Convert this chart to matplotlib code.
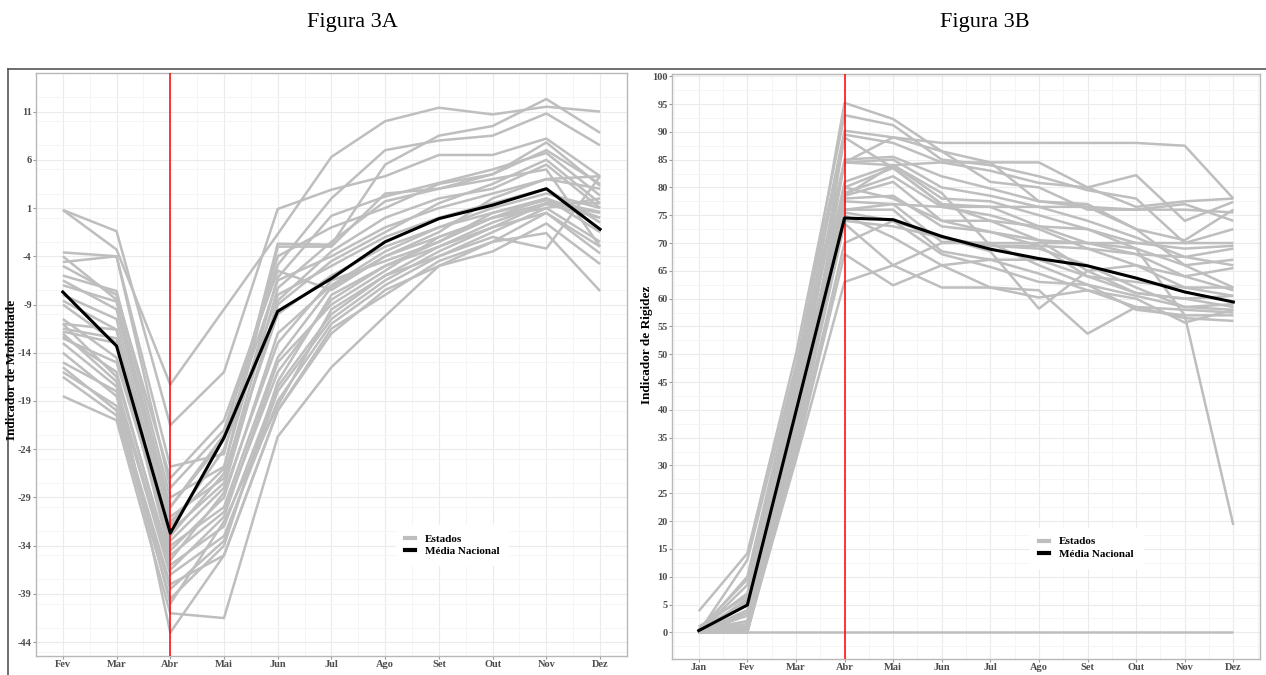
import matplotlib.pyplot as plt
from matplotlib.lines import Line2D
from matplotlib.ticker import MultipleLocator

plt.rcParams['axes.unicode_minus'] = False

# ---- Figura 3A: indicador de mobilidade (Fev-Dez) ----
meses_mob = ['Fev', 'Mar', 'Abr', 'Mai', 'Jun', 'Jul', 'Ago', 'Set', 'Out', 'Nov', 'Dez']

estados_mob = [
    [0.8, -1.4, -21.5, -16.0, 0.9, 2.9, 4.3, 6.5, 6.5, 8.2, 4.3],
    [0.8, -3.3, -17.3, -9.5, -1.7, 6.3, 10.0, 11.4, 10.7, 11.5, 11.0],
    [-3.6, -4.0, -25.8, -24.5, -2.7, -2.8, 5.5, 8.5, 9.5, 12.3, 8.8],
    [-4.6, -4.0, -28.0, -22.0, -4.9, 2.0, 7.0, 8.0, 8.5, 10.8, 7.5],
    [-6.0, -7.6, -29.0, -25.8, -6.2, 0.2, 2.2, 3.6, 5.0, 6.7, 2.3],
    [-7.0, -8.7, -31.0, -27.0, -7.3, -2.5, 1.7, 3.0, 4.5, 7.8, 3.3],
    [-8.6, -11.6, -33.5, -28.0, -8.6, -3.5, 0.0, 2.0, 3.0, 5.5, 1.0],
    [-11.0, -11.6, -34.0, -30.0, -14.5, -7.2, -4.0, -1.5, 2.0, 4.0, 4.3],
    [-11.8, -13.0, -35.0, -30.5, -16.0, -8.5, -5.0, -2.5, 0.5, 1.8, 0.6],
    [-12.3, -16.0, -36.0, -32.0, -17.5, -10.0, -6.0, -3.0, -0.5, 1.4, 0.0],
    [-15.0, -18.0, -37.0, -33.0, -19.0, -11.0, -7.0, -4.0, -1.5, 1.0, -2.5],
    [-16.0, -19.5, -38.0, -35.0, -20.0, -12.0, -7.5, -5.0, -2.5, 0.5, -3.7],
    [-18.5, -21.0, -41.0, -41.5, -22.7, -15.5, -10.2, -5.0, -3.5, -0.6, -4.8],
    [-12.0, -17.0, -43.0, -35.0, -20.0, -11.5, -8.0, -4.5, -2.5, -1.6, -7.6],
    [-5.0, -8.0, -27.0, -21.0, -5.5, -7.5, -4.0, -2.0, 0.0, 1.5, 0.5],
    [-9.0, -13.0, -30.0, -23.0, -6.5, -4.0, -1.0, 1.0, 2.5, 4.0, 3.0],
    [-10.5, -14.5, -32.0, -24.0, -8.0, -5.0, -2.0, 0.0, 1.5, 3.0, -0.5],
    [-12.5, -15.0, -33.0, -26.5, -10.0, -6.0, -3.0, -1.0, 1.0, 2.5, 1.0],
    [-11.5, -12.5, -34.5, -29.0, -12.0, -7.0, -3.5, -1.0, 0.5, 2.0, -1.5],
    [-13.0, -17.5, -36.5, -31.0, -15.0, -9.0, -5.5, -2.0, 0.0, 1.0, 2.0],
    [-15.5, -20.0, -38.5, -33.5, -18.0, -10.5, -6.5, -3.5, -1.0, 0.5, -3.0],
    [-6.5, -9.5, -31.5, -26.0, -3.0, -3.0, 2.5, 3.0, 4.0, 5.0, -3.0],
    [-16.5, -20.5, -39.5, -34.0, -17.0, -8.0, -5.0, -3.0, -1.0, 1.5, 1.5],
    [-14.0, -18.5, -40.0, -31.5, -19.5, -9.5, -6.0, -4.0, -2.0, -3.2, 4.3],
    [-8.0, -10.5, -32.5, -27.5, -9.0, -4.5, -1.5, 1.5, 3.5, 6.0, 1.5],
    [-4.0, -8.5, -30.0, -22.5, -4.0, -1.0, 1.0, 3.5, 4.5, 7.0, 3.5],
    [-11.0, -16.5, -35.5, -28.5, -13.0, -6.5, -4.5, -2.5, 0.0, 2.0, 0.0],
]
media_mob = [-7.7, -13.3, -32.7, -22.8, -9.7, -6.3, -2.5, -0.1, 1.3, 3.0, -1.2]

# ---- Figura 3B: indicador de rigidez (Jan-Dez) ----
meses_rig = ['Jan', 'Fev', 'Mar', 'Abr', 'Mai', 'Jun', 'Jul', 'Ago', 'Set', 'Out', 'Nov', 'Dez']

estados_rig = [
    [0, 0, 0, 0, 0, 0, 0, 0, 0, 0, 0, 0],
    [0, 1.0, 46, 95.2, 92.3, 86.5, 84.5, 84.5, 80.0, 76.5, 77.5, 78.0],
    [3.8, 14.2, 50, 93.0, 91.2, 85.0, 84.0, 82.0, 79.5, 78.0, 70.0, 72.5],
    [0, 13.0, 48, 90.2, 89.0, 88.0, 88.0, 88.0, 88.0, 88.0, 87.5, 78.0],
    [0.5, 9.5, 45, 89.5, 88.0, 84.5, 83.0, 80.8, 80.0, 82.2, 74.0, 77.4],
    [0, 8.5, 44, 85.0, 85.5, 82.0, 79.8, 77.5, 77.0, 72.5, 70.5, 76.0],
    [1.0, 6.5, 42, 84.5, 85.0, 80.0, 78.5, 76.5, 74.0, 71.0, 67.5, 66.0],
    [0, 6.0, 40, 81.0, 84.0, 78.0, 77.5, 75.0, 72.5, 70.0, 69.0, 69.5],
    [0.5, 2.0, 38, 80.0, 83.5, 77.0, 76.5, 73.0, 70.0, 69.0, 66.0, 62.0],
    [0, 1.0, 37, 79.0, 82.0, 76.5, 75.0, 72.5, 69.0, 68.0, 64.0, 61.5],
    [0, 0.5, 36, 78.5, 81.0, 74.0, 74.0, 70.5, 65.0, 66.0, 62.0, 60.5],
    [0.5, 7.0, 42, 78.0, 78.5, 73.0, 72.0, 69.5, 64.0, 61.0, 60.0, 58.5],
    [0, 5.0, 40, 77.5, 77.0, 70.2, 70.0, 66.0, 62.5, 60.5, 58.5, 58.0],
    [0, 4.0, 38, 76.0, 76.0, 68.5, 67.0, 64.5, 61.5, 58.5, 58.0, 57.5],
    [0, 3.0, 36, 75.5, 74.0, 68.0, 65.7, 63.0, 62.5, 58.0, 57.0, 57.0],
    [0, 0.5, 35, 75.0, 71.0, 66.0, 62.0, 61.5, 53.7, 58.5, 56.5, 56.0],
    [0, 0.0, 34, 73.5, 66.0, 62.0, 62.0, 60.2, 61.5, 60.0, 55.7, 58.0],
    [0, 1.0, 33, 70.0, 74.0, 71.0, 68.5, 58.2, 65.0, 61.0, 60.0, 60.5],
    [0, 0.0, 32, 68.0, 62.4, 66.0, 67.0, 67.0, 64.0, 63.0, 62.0, 62.0],
    [0, 0.5, 31, 63.0, 66.0, 70.0, 70.0, 70.0, 70.0, 70.0, 70.0, 70.0],
    [0, 2.0, 36, 84.5, 89.0, 86.5, 81.0, 80.0, 76.0, 76.0, 76.0, 75.5],
    [0, 0.0, 38, 89.0, 83.5, 77.0, 74.0, 73.0, 72.5, 69.0, 57.0, 19.3],
    [0, 1.5, 40, 80.0, 78.0, 74.0, 72.0, 70.5, 70.0, 68.0, 67.5, 69.0],
    [0, 0.5, 39, 76.0, 77.0, 76.5, 76.5, 76.5, 76.5, 76.0, 77.0, 74.0],
    [0, 3.5, 43, 74.0, 73.0, 71.0, 69.5, 69.0, 66.0, 62.0, 58.5, 59.0],
    [0, 10.0, 47, 84.5, 84.0, 84.5, 84.5, 77.5, 76.5, 72.5, 66.0, 67.0],
    [0.5, 5.5, 41, 78.5, 84.0, 79.0, 69.5, 69.5, 69.0, 66.0, 64.0, 65.5],
]
media_rig = [0.3, 4.9, 39.7, 74.5, 74.2, 71.2, 68.9, 67.2, 65.9, 63.7, 61.2, 59.4]

SERIF = ['Liberation Serif', 'DejaVu Serif']
GREY = '#BEBEBE'


def painel(ax, meses, estados, media, yticks, ylim, mes_corte):
    x = list(range(1, len(meses) + 1))
    for serie in estados:
        ax.plot(x, serie, color=GREY, lw=1.8, solid_capstyle='butt', zorder=2)
    ax.axvline(meses.index(mes_corte) + 1, color='#FF0000', lw=1.1, zorder=3)
    ax.plot(x, media, color='black', lw=2.2, zorder=4)

    n = len(meses) - 1
    ax.set_xlim(1 - 0.05 * n, len(meses) + 0.05 * n)
    ax.set_ylim(*ylim)
    ax.set_xticks(x)
    ax.set_xticklabels(meses)
    ax.set_yticks(yticks)
    ax.xaxis.set_minor_locator(MultipleLocator(0.5))
    ax.yaxis.set_minor_locator(MultipleLocator((yticks[1] - yticks[0]) / 2))

    ax.grid(True, which='major', color='#EBEBEB', lw=0.8, zorder=0)
    ax.grid(True, which='minor', color='#F4F4F4', lw=0.6, zorder=0)
    ax.set_axisbelow(True)
    for s in ax.spines.values():
        s.set_color('#B8B8B8')
        s.set_linewidth(1.0)

    ax.tick_params(which='major', length=2, width=0.8, color='#999999',
                   labelsize=7.5, labelcolor='#4D4D4D', pad=1)
    ax.tick_params(which='minor', length=0)
    for lab in ax.get_xticklabels() + ax.get_yticklabels():
        lab.set_family(SERIF)
        lab.set_fontweight('bold')

    handles = [Line2D([], [], color=GREY, lw=3), Line2D([], [], color='black', lw=3)]
    leg = ax.legend(handles, ['Estados', 'Média Nacional'], loc='center left',
                    bbox_to_anchor=(0.6, 0.19), frameon=True, fancybox=False,
                    edgecolor='white', facecolor='white', framealpha=1,
                    handlelength=0.9, handletextpad=0.9, labelspacing=0.25,
                    borderpad=0.8, prop={'family': SERIF, 'weight': 'bold', 'size': 8})
    leg.set_zorder(5)


fig = plt.figure(figsize=(12.66, 6.75), dpi=100)

ax_a = fig.add_axes([0.0284, 0.0286, 0.4668, 0.8633])
painel(ax_a, meses_mob, estados_mob, media_mob,
       list(range(-44, 12, 5)), (-45.4, 15.0), 'Abr')

ax_b = fig.add_axes([0.5308, 0.0237, 0.4645, 0.8667])
painel(ax_b, meses_rig, estados_rig, media_rig,
       list(range(0, 101, 5)), (-4.8, 100.4), 'Abr')

# rótulos dos eixos y
fig.text(12.5 / 1266, 1 - 370 / 675, 'Indicador de Mobilidade', rotation=90,
         ha='center', va='center', family=SERIF, fontweight='bold', fontsize=9.5)
fig.text(647 / 1266, 1 - 345 / 675, 'Indicador de Rigidez', rotation=90,
         ha='center', va='center', family=SERIF, fontweight='bold', fontsize=9.5)

# moldura externa e títulos
fig.add_artist(Line2D([8 / 1266, 1.0], [1 - 69 / 675] * 2, color='#555555', lw=1.2))
fig.add_artist(Line2D([8 / 1266] * 2, [0, 1 - 69 / 675], color='#555555', lw=1.2))
fig.text(352 / 1266, 1 - 22 / 675, 'Figura 3A', ha='center', va='center',
         family=SERIF, fontsize=16)
fig.text(985 / 1266, 1 - 22 / 675, 'Figura 3B', ha='center', va='center',
         family=SERIF, fontsize=16)

fig.savefig('out.png', dpi=100, facecolor='white')
